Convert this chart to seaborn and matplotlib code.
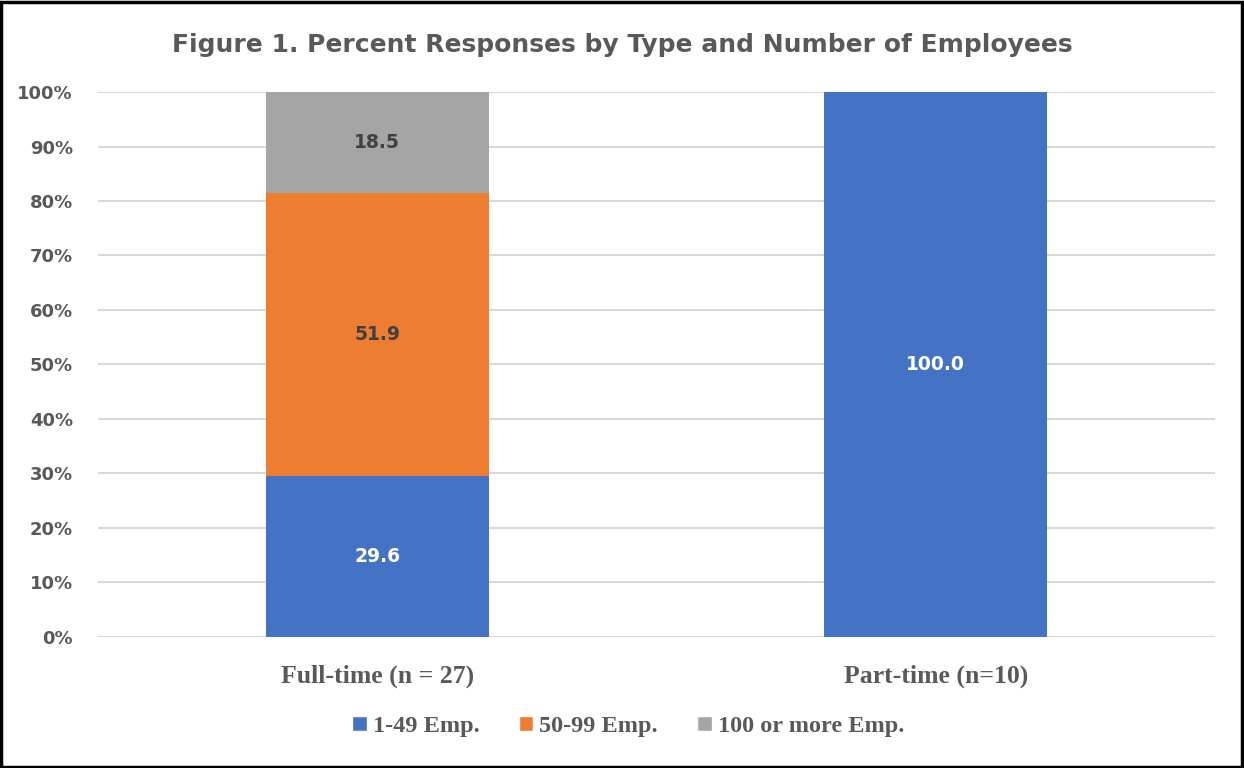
import matplotlib
matplotlib.use("Agg")
from matplotlib import pyplot as plt
import matplotlib.patches as mpatches
import numpy as np
import pandas as pd
import seaborn as sns

# data
categories = ["Full-time (n = 27)", "Part-time (n=10)"]
series_names = ["1-49 Emp.", "50-99 Emp.", "100 or more Emp."]
emp_1_49 = [29.6, 100.0]
emp_50_99 = [51.9, 0.0]
emp_100_plus = [18.5, 0.0]

COLORS = {"1-49 Emp.": "#4472C4", "50-99 Emp.": "#ED7D31", "100 or more Emp.": "#A5A5A5"}
LABEL_COLORS = {"1-49 Emp.": "white", "50-99 Emp.": "#404040", "100 or more Emp.": "#404040"}
TEXT_GRAY = "#595959"

sns.set_theme(style="white")
plt.rcParams["font.family"] = ["DejaVu Sans"]

df = pd.DataFrame({"category": categories,
                   "1-49 Emp.": emp_1_49,
                   "50-99 Emp.": emp_50_99,
                   "100 or more Emp.": emp_100_plus})
cum = df[series_names].cumsum(axis=1)
bottoms = cum - df[series_names]

fig = plt.figure(figsize=(12.44, 7.68), dpi=100)
ax = fig.add_axes([0.0788, 0.1706, 0.8979, 0.7096])

# draw cumulative totals from the top segment down so they stack visually
for name in reversed(series_names):
    sns.barplot(x=df["category"], y=cum[name], color=COLORS[name], width=0.4,
                ax=ax, saturation=1, zorder=3, linewidth=0, edgecolor="none")

for i in range(len(categories)):
    for name in series_names:
        val = df.loc[i, name]
        if val <= 0:
            continue
        ymid = bottoms.loc[i, name] + val / 2
        ax.text(i, ymid, f"{val:.1f}", ha="center", va="center",
                fontsize=13.5, fontweight="bold", color=LABEL_COLORS[name], zorder=5)

ax.set_xlim(-0.5, 1.5)
ax.set_ylim(0, 100)
ax.set_yticks(np.arange(0, 101, 10))
ax.set_yticklabels([f"{v}%" for v in range(0, 101, 10)])
ax.yaxis.grid(True, color="#D9D9D9", linewidth=1.5, zorder=0)
ax.set_axisbelow(True)
for s in ax.spines.values():
    s.set_visible(False)
ax.tick_params(axis="y", length=0, pad=18, labelsize=13, labelcolor=TEXT_GRAY)
ax.tick_params(axis="x", length=0, pad=20, labelcolor=TEXT_GRAY)
for lab in ax.get_yticklabels():
    lab.set_fontweight("bold")
for lab in ax.get_xticklabels():
    lab.set_fontfamily("Liberation Serif")
    lab.set_fontweight("bold")
    lab.set_fontsize(18.5)
ax.set_xlabel("")
ax.set_ylabel("")

fig.text(0.5, 0.941, "Figure 1. Percent Responses by Type and Number of Employees",
         ha="center", va="center", fontsize=18, fontweight="bold", color=TEXT_GRAY)

handles = [mpatches.Patch(facecolor=COLORS[n], label=n) for n in series_names]
leg = fig.legend(handles=handles, loc="center", bbox_to_anchor=(0.505, 0.054), ncol=3,
                 frameon=False, handlelength=0.6, handleheight=0.6, handletextpad=0.25,
                 columnspacing=1.6,
                 prop={"family": "Liberation Serif", "weight": "bold", "size": 17.5})
for t in leg.get_texts():
    t.set_color(TEXT_GRAY)

fig.patches.append(mpatches.Rectangle((0.001, 0.0015), 0.997, 0.996, transform=fig.transFigure,
                                      fill=False, edgecolor="black", linewidth=2.5))

fig.savefig("out.png", dpi=100)
